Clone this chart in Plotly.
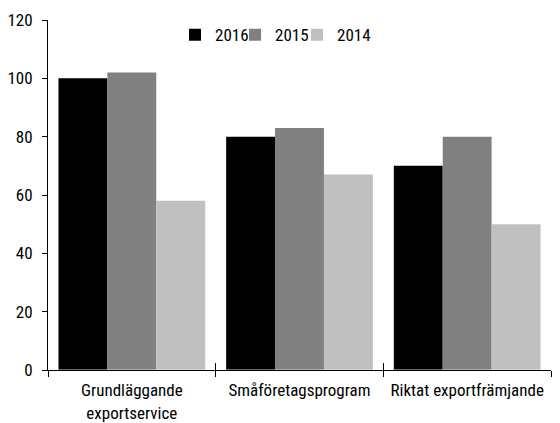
import plotly.graph_objects as go

categories = ["Grundläggande<br>exportservice", "Småföretagsprogram", "Riktat exportfrämjande"]
series_names = ["2016", "2015", "2014"]
values_2016 = [100, 80, 70]
values_2015 = [102, 83, 80]
values_2014 = [58, 67, 50]
colors = ["#000000", "#808080", "#c0c0c0"]
y_ticks = [0, 20, 40, 60, 80, 100, 120]

FONT = "Roboto Condensed, sans-serif"

fig = go.Figure()
legend_ids = ["legend", "legend2", "legend3"]
for name, vals, col, lg in zip(series_names, [values_2016, values_2015, values_2014], colors, legend_ids):
    fig.add_trace(go.Bar(x=categories, y=vals, name=name, legend=lg,
                         marker=dict(color=col, line=dict(width=0))))

# invisible trace to host the inner half of the crossing boundary ticks
fig.add_trace(go.Bar(x=categories, y=[0, 0, 0], xaxis="x2", showlegend=False,
                     hoverinfo="skip", marker=dict(color="rgba(0,0,0,0)")))

legend_style = dict(orientation="h", xanchor="left", y=1.008, yanchor="top",
                    font=dict(size=17), itemwidth=30, bgcolor="rgba(0,0,0,0)", borderwidth=0)

fig.update_layout(
    width=552, height=415,
    margin=dict(l=40, r=9, t=12, b=53, autoexpand=False),
    paper_bgcolor="white", plot_bgcolor="white",
    font=dict(family=FONT, size=17, color="#000"),
    barmode="group", bargap=0.125, bargroupgap=0,
    legend=dict(x=0.2525, **legend_style),
    legend2=dict(x=0.3718, **legend_style),
    legend3=dict(x=0.4950, **legend_style),
    xaxis=dict(showline=True, linecolor="#000", linewidth=1, ticks="outside",
               tickson="boundaries", ticklen=6, tickcolor="#000", showgrid=False,
               tickfont=dict(size=17), ticklabelstandoff=5, automargin=False),
    xaxis2=dict(overlaying="x", matches="x", showline=False, ticks="inside",
                tickson="boundaries", ticklen=7, tickcolor="#000", showticklabels=False,
                showgrid=False, side="bottom", automargin=False),
    yaxis=dict(range=[0, 120], tickvals=y_ticks, showline=True, linecolor="#000",
               linewidth=1, ticks="outside", ticklen=5, tickcolor="#000",
               showgrid=False, zeroline=False, tickfont=dict(size=17),
               ticklabelstandoff=6, automargin=False),
)

fig.write_html("out.html")
